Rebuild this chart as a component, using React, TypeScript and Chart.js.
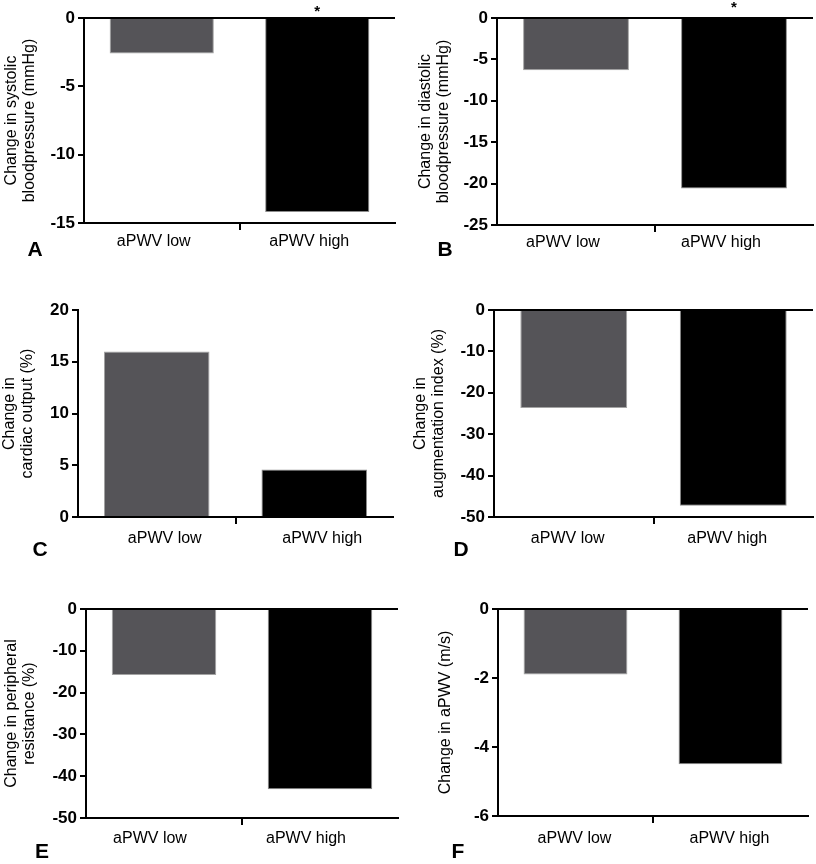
import React, { useEffect, useRef } from 'react';
import { Chart, registerables } from 'chart.js';
Chart.register(...registerables);

// ---- Data ----
const categories = ['aPWV low', 'aPWV high'];
const systolicValues = [-2.6, -14.2];
const diastolicValues = [-6.3, -20.6];
const cardiacOutputValues = [16.0, 4.6];
const augmentationValues = [-23.7, -47.3];
const resistanceValues = [-15.8, -43.1];
const apwvValues = [-1.9, -4.5];

const systolicTitle = ['Change in systolic', 'bloodpressure (mmHg)'];
const diastolicTitle = ['Change in diastolic', 'bloodpressure (mmHg)'];
const cardiacTitle = ['Change in', 'cardiac output (%)'];
const augmentationTitle = ['Change in', 'augmentation index (%)'];
const resistanceTitle = ['Change in peripheral', 'resistance (%)'];
const apwvTitle = 'Change in aPWV (m/s)';

const systolicRange = [-15, 0, 5];
const diastolicRange = [-25, 0, 5];
const cardiacRange = [0, 20, 5];
const augmentationRange = [-50, 0, 10];
const resistanceRange = [-50, 0, 10];
const apwvRange = [-6, 0, 2];

const panelLetters = ['A', 'B', 'C', 'D', 'E', 'F'];
const significantA = [false, true];
const significantB = [false, true];
const noneSignificant = [false, false];

const FONT = '"Liberation Sans", Arial, Helvetica, sans-serif';
const barColors = ['#555458', '#000000'];
const barBorders = ['#a3a3a3', '#8c8c8c'];

type PanelCfg = {
  letter: string;
  x: number; y: number; w: number; h: number;
  left: number; right: number; top: number; bottom: number;
  values: number[];
  range: number[];
  title: string | string[];
  titlePad: number;
  sig: boolean[];
  starY: number;
  labelOffset: number;
  labelPad: number;
  letterX: number; letterY: number;
};

const panels: PanelCfg[] = [
  { letter: panelLetters[0], x: 0, y: 0, w: 408, h: 290, left: 84, right: 395, top: 18, bottom: 223,
    values: systolicValues, range: systolicRange, title: systolicTitle, titlePad: 3, sig: significantA, starY: 16,
    labelOffset: -8, labelPad: 2, letterX: 35, letterY: 248 },
  { letter: panelLetters[1], x: 408, y: 0, w: 408, h: 290, left: 89, right: 405, top: 18, bottom: 225,
    values: diastolicValues, range: diastolicRange, title: diastolicTitle, titlePad: 9, sig: significantB, starY: 12,
    labelOffset: -13, labelPad: 1, letterX: 37, letterY: 248 },
  { letter: panelLetters[2], x: 0, y: 290, w: 408, h: 290, left: 78, right: 393, top: 20, bottom: 227,
    values: cardiacOutputValues, range: cardiacRange, title: cardiacTitle, titlePad: 1, sig: noneSignificant, starY: 0,
    labelOffset: 8, labelPad: 5, letterX: 40, letterY: 258 },
  { letter: panelLetters[3], x: 408, y: 290, w: 408, h: 290, left: 86, right: 405, top: 20, bottom: 227,
    values: augmentationValues, range: augmentationRange, title: augmentationTitle, titlePad: 4, sig: noneSignificant, starY: 0,
    labelOffset: -6, labelPad: 5, letterX: 53, letterY: 258 },
  { letter: panelLetters[4], x: 0, y: 580, w: 408, h: 284, left: 86, right: 398, top: 29, bottom: 238,
    values: resistanceValues, range: resistanceRange, title: resistanceTitle, titlePad: 3, sig: noneSignificant, starY: 0,
    labelOffset: -14, labelPad: 4, letterX: 42, letterY: 270 },
  { letter: panelLetters[5], x: 408, y: 580, w: 408, h: 284, left: 90, right: 400, top: 29, bottom: 236,
    values: apwvValues, range: apwvRange, title: apwvTitle, titlePad: 29, sig: noneSignificant, starY: 0,
    labelOffset: -1, labelPad: 6, letterX: 50, letterY: 270 },
];

function Panel({ cfg }: { cfg: PanelCfg }) {
  const ref = useRef<HTMLCanvasElement>(null);
  useEffect(() => {
    const negative = cfg.range[1] === 0;
    const starPlugin = {
      id: 'stars' + cfg.letter,
      afterDatasetsDraw(chart: any) {
        const meta = chart.getDatasetMeta(0);
        const ctx = chart.ctx;
        ctx.save();
        ctx.fillStyle = '#000';
        ctx.font = 'bold 15px ' + FONT;
        ctx.textAlign = 'center';
        ctx.textBaseline = 'alphabetic';
        cfg.sig.forEach((s, i) => {
          if (!s) return;
          const bar = meta.data[i];
          ctx.fillText('*', bar.x, cfg.starY);
        });
        ctx.restore();
      },
    };
    const chart = new Chart(ref.current!, {
      type: 'bar',
      data: {
        labels: categories,
        datasets: [
          {
            data: cfg.values,
            backgroundColor: barColors,
            borderColor: barBorders,
            borderWidth: 1,
            barPercentage: 0.67,
            categoryPercentage: 1,
          },
        ],
      },
      options: {
        animation: false,
        responsive: false,
        devicePixelRatio: 1,
        layout: { padding: { top: cfg.top, right: cfg.w - cfg.right, left: 0, bottom: 0 } },
        plugins: { legend: { display: false }, tooltip: { enabled: false } },
        scales: {
          x: {
            offset: true,
            grid: {
              offset: true,
              drawOnChartArea: false,
              tickLength: 7,
              lineWidth: 2,
              color: (c: any) => (c.index === 1 ? '#000' : 'rgba(0,0,0,0)'),
            },
            border: { display: true, color: '#000', width: 2 },
            ticks: {
              color: '#000',
              font: { family: FONT, size: 16 },
              padding: cfg.labelPad,
              labelOffset: cfg.labelOffset,
            },
            afterFit: (s: any) => { s.height = cfg.h - cfg.bottom; },
          },
          y: {
            min: cfg.range[0],
            max: cfg.range[1],
            z: 1,
            ticks: {
              stepSize: cfg.range[2],
              color: '#000',
              font: { family: FONT, size: 17, weight: 'bold' },
              padding: 3,
            },
            grid: {
              drawOnChartArea: true,
              lineWidth: 2,
              tickLength: 6,
              tickColor: '#000',
              color: (c: any) => (negative && c.tick && c.tick.value === 0 ? '#000' : 'rgba(0,0,0,0)'),
            },
            border: { display: true, color: '#000', width: 2 },
            title: {
              display: true,
              text: cfg.title,
              color: '#000',
              font: { family: FONT, size: 16, lineHeight: 1.1 },
              padding: { top: cfg.titlePad, bottom: 0 },
            },
            afterFit: (s: any) => { s.width = cfg.left; },
          },
        },
      },
      plugins: [starPlugin],
    } as any);
    return () => chart.destroy();
  }, []);
  return (
    <div style={{ position: 'absolute', left: cfg.x, top: cfg.y, width: cfg.w, height: cfg.h }}>
      <canvas ref={ref} width={cfg.w} height={cfg.h} style={{ width: cfg.w, height: cfg.h, display: 'block' }} />
      <div
        style={{
          position: 'absolute',
          left: cfg.letterX,
          top: cfg.letterY,
          transform: 'translate(-50%, -50%)',
          fontFamily: FONT,
          fontWeight: 'bold',
          fontSize: 21,
          lineHeight: 1,
          color: '#000',
        }}
      >
        {cfg.letter}
      </div>
    </div>
  );
}

export default function App() {
  return (
    <div style={{ position: 'absolute', left: 0, top: 0, width: 816, height: 864, background: '#fff', overflow: 'hidden' }}>
      {panels.map((p) => (
        <Panel key={p.letter} cfg={p} />
      ))}
    </div>
  );
}
